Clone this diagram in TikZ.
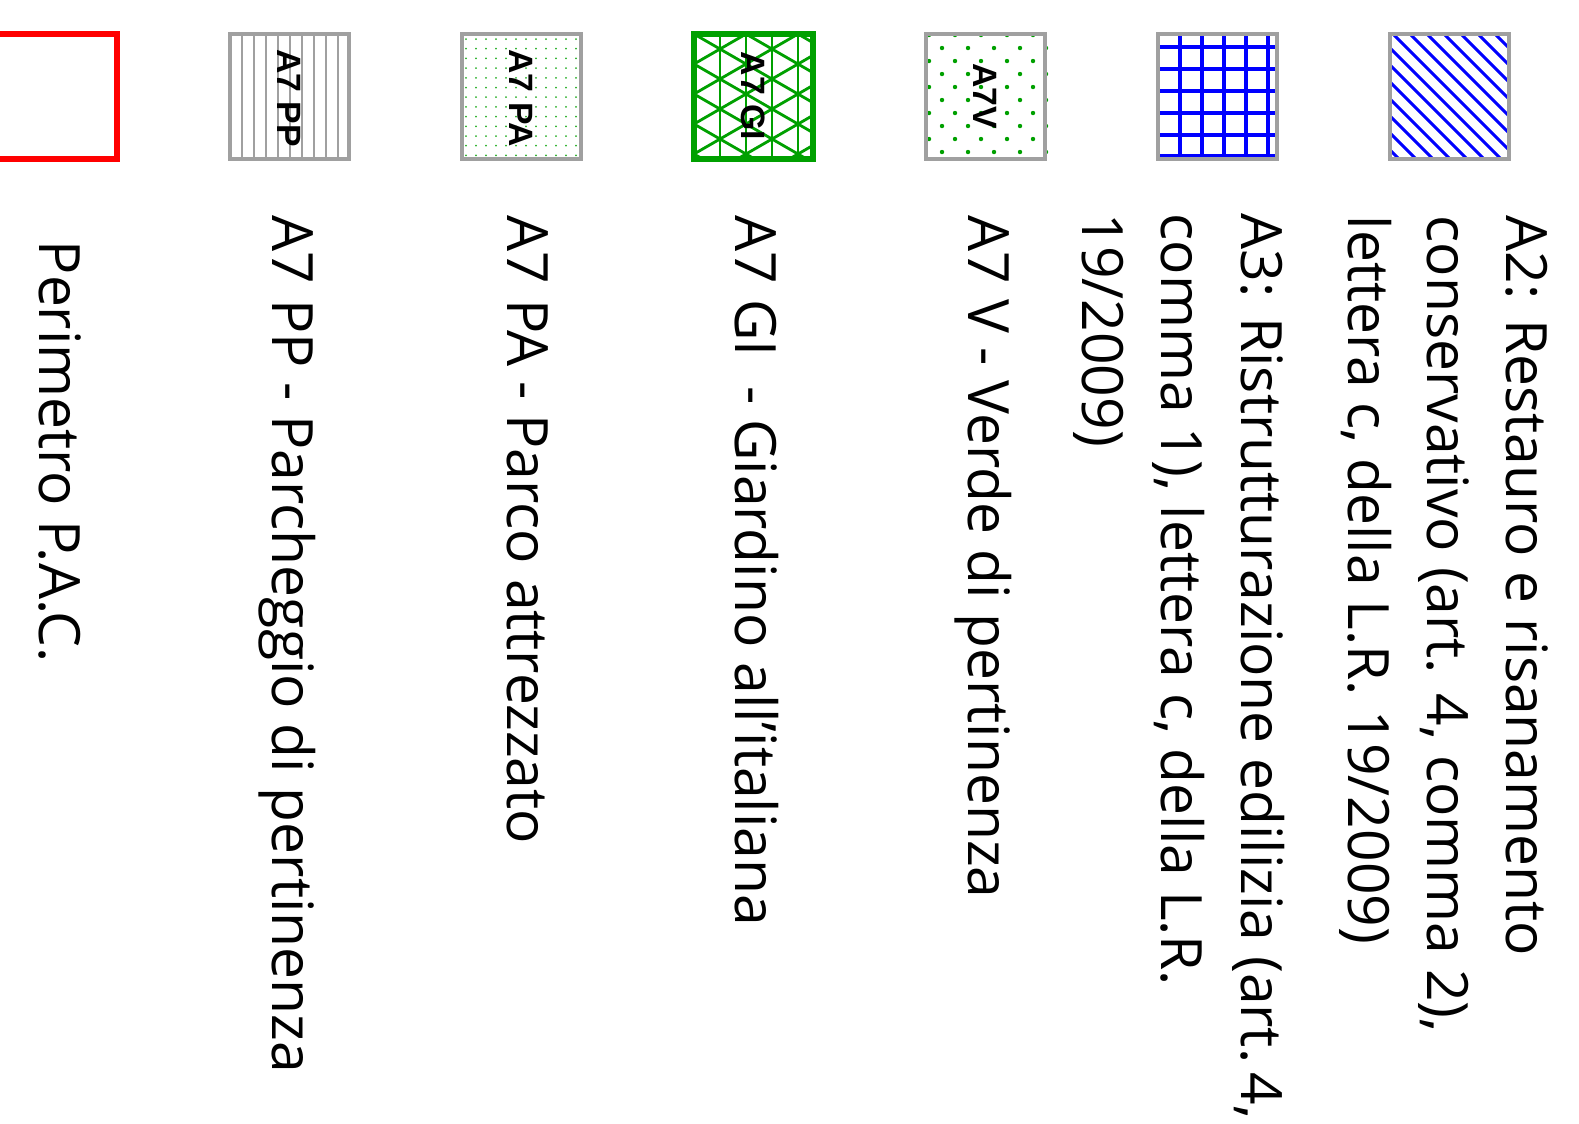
\documentclass[tikz,border=0pt]{standalone}
\usepackage{fontspec}
\setmainfont{Open Sans}
\newfontfamily\swfont{Liberation Sans}
\definecolor{hatchblue}{RGB}{0,0,255}
\definecolor{parkgreen}{RGB}{0,160,0}
\definecolor{boxgray}{RGB}{160,160,160}

\tikzset{
  legtext/.style={rotate=-90,anchor=north west,inner sep=0pt,align=left,
    font=\fontsize{16.2}{22.5}\selectfont},
  swlabel/.style={rotate=-90,inner sep=0pt,font=\swfont\bfseries\fontsize{9.6}{10}\selectfont},
  swbox/.style={draw=boxgray,line width=1.2pt}
}

\begin{document}
\begin{tikzpicture}[x=0.01cm,y=-0.01cm]
      		\useasboundingbox (0,0) rectangle (1579,1123);
      		% A2
      		\begin{scope}
      		    \clip (1390,34) rectangle (1509,159);
      		    \foreach \d in {-150,-133,...,130}
      		        \draw[hatchblue,line width=0.9pt] (1390+\d,34) -- ++(140,140);
      		\end{scope}
      		\draw[swbox] (1390,34) rectangle (1509,159);
      		% A3
      		\foreach \x in {1180,1202,1224,1246,1268}
      		    \draw[hatchblue,line width=1.1pt] (\x,34) -- (\x,159);
      		\foreach \y in {47,69,91,113,135,156}
      		    \draw[hatchblue,line width=1.1pt] (1158,\y) -- (1277,\y);
      		\draw[swbox] (1158,34) rectangle (1277,159);
      		% A7 V
      		\foreach \i in {0,...,9}
      		    \foreach \j in {0,...,9}{
      		        \pgfmathtruncatemacro{\parity}{mod(\i+\j,2)}
      		        \ifnum\parity=0
      		            \fill[parkgreen] (929+13*\i,35+13*\j) circle (2.2);
      		        \fi}
      		\draw[swbox] (926,34) rectangle (1045,159);
      		\node[swlabel] (lv) at (985,96) {A7V};
      		% A7 GI
      		\begin{scope}
      		    \clip (694,34) rectangle (813,159);
      		    \foreach \x in {720,746,772,798}
      		        \draw[parkgreen,line width=0.8pt] (\x,34) -- (\x,159);
      		    \foreach \k in {-6,...,8}{
      		        \draw[parkgreen,line width=0.8pt] (694,34+30*\k) -- ++(130,75);
      		        \draw[parkgreen,line width=0.8pt] (694,34+30*\k) -- ++(130,-75);}
      		\end{scope}
      		\draw[parkgreen,line width=1.5pt] (694,34) rectangle (813,159);
      		\node[swlabel] (lgi) at (753,96) {A7 GI};
      		% A7 PA
      		\foreach \i in {0,...,11}
      		    \foreach \j in {0,...,12}
      		        \fill[parkgreen!85] (466+10*\i,39+9.7*\j) circle (1.0);
      		\draw[swbox] (462,34) rectangle (581,159);
      		\node[swlabel] (lpa) at (521,98) {A7 PA};
      		% A7 PP
      		\foreach \x in {242,254,...,340}
      		    \draw[boxgray,line width=0.6pt] (\x,34) -- (\x,159);
      		\draw[swbox] (230,34) rectangle (349,159);
      		\node[swlabel] (lpp) at (289,98) {A7 PP};
      		% perimetro
      		\draw[red,line width=1.5pt] (-4,34) rectangle (117,159);
      		% testi
      		\node[legtext] (ta2) at (1549,215) {A2: Restauro e risanamento\\conservativo (art. 4, comma 2),\\lettera c, della L.R. 19/2009)};
      		\node[legtext] (ta3) at (1285,213) {A3: Ristrutturazione edilizia (art.\,4,\\comma 1), lettera c, della L.R.\\19/2009)};
      		\node[legtext] (tv) at (1012,215) {A7 V - Verde di pertinenza};
      		\node[legtext] (tgi) at (779,215) {A7 GI\ \ - Giardino all'italiana};
      		\node[legtext] (tpa) at (549,215) {A7 PA - Parco attrezzato};
      		\node[legtext] (tpp) at (316,215) {A7 PP - Parcheggio di pertinenza};
      		\node[legtext] (tper) at (82,240) {Perimetro P.A.C.};
    	\end{tikzpicture}
\end{document}
